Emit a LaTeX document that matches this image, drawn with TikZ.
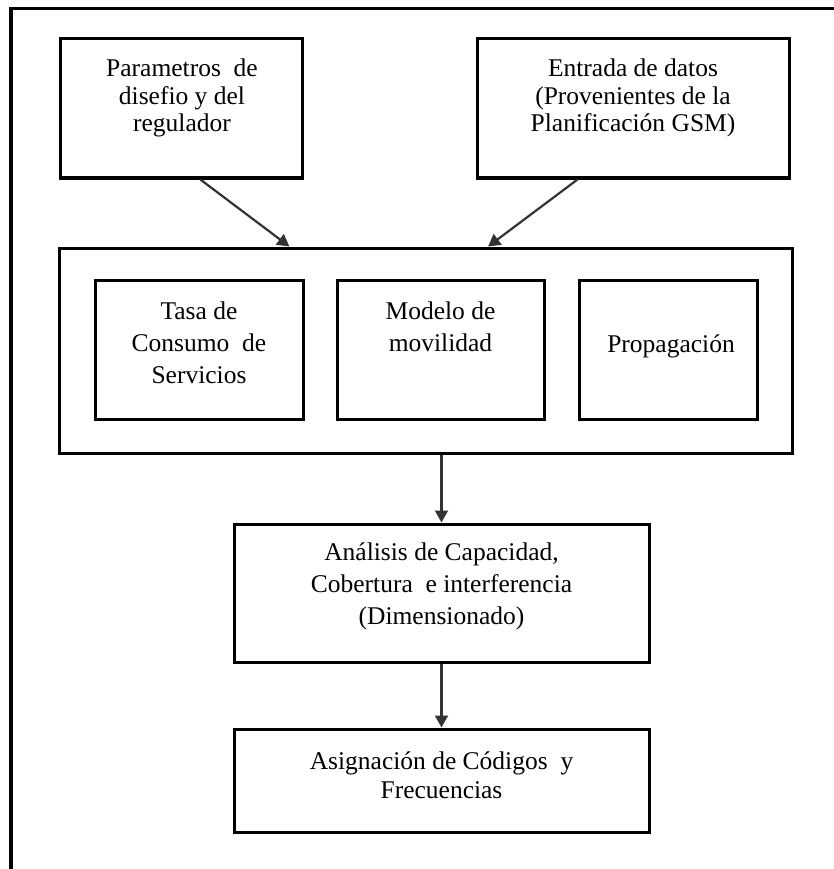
\documentclass[tikz,border=0pt]{standalone}
\usepackage{fontspec}
\setmainfont{Liberation Serif}
\usetikzlibrary{arrows.meta,calc}
\begin{document}
\begin{tikzpicture}[x=1pt,y=-1pt,
  box/.style={draw=black,line width=3pt,fill=white,inner sep=0pt,rectangle},
  txt/.style={inner sep=0pt,align=center,anchor=north,font=\fontsize{25.5}{27.5}\selectfont},
  txtw/.style={txt,font=\fontsize{25.5}{32}\selectfont},
  arr/.style={draw=black!80,line width=2.2pt,-{Triangle[width=13pt,length=12pt]}}]
\useasboundingbox (0,0) rectangle (834,869);
% outer frame (only top and left edges visible)
\coordinate (f1) at (11,869);
\coordinate (f2) at (11,8.5);
\coordinate (f3) at (834,8.5);
\draw[line width=3.5pt] (f1) -- (f2) -- (f3);
% boxes
\node[box,minimum width=242pt,minimum height=139pt] (A) at (181,108.5) {};
\node[box,minimum width=312pt,minimum height=139pt] (B) at (633,108.5) {};
\node[box,minimum width=733pt,minimum height=205pt] (C) at (425.5,350.5) {};
\node[box,minimum width=208pt,minimum height=139pt] (T1) at (199,349.5) {};
\node[box,minimum width=207pt,minimum height=139pt] (T2) at (440.5,349.5) {};
\node[box,minimum width=178pt,minimum height=139pt] (T3) at (668,349.5) {};
\node[box,minimum width=415pt,minimum height=138pt] (D) at (441.5,593) {};
\node[box,minimum width=415pt,minimum height=103pt] (E) at (441.5,780.5) {};
% texts
\node[txt] (tA) at (182,59) {Parametros\ \ de\\disefio y del\\regulador};
\node[txt] (tB) at (633,59) {Entrada de datos\\(Provenientes de la\\Planificación GSM)};
\node[txtw] (tT1) at (199,302) {Tasa de\\Consumo\ \ de\\Servicios};
\node[txtw] (tT2) at (440.5,302) {Modelo de\\movilidad};
\node[txtw] (tT3) at (671,335) {Propagación};
\node[txtw] (tD) at (441.5,543) {Análisis de Capacidad,\\Cobertura\ \ e interferencia\\(Dimensionado)};
\node[txt,font=\fontsize{25.5}{29}\selectfont] (tE) at (441.5,752) {Asignación de Códigos\ \ y\\Frecuencias};
% connectors
\draw[arr] ($(A.south west)!0.579!(A.south east)$) -- ($(C.north west)!0.315!(C.north east)$);
\draw[arr] ($(B.south west)!0.324!(B.south east)$) -- ($(C.north west)!0.585!(C.north east)$);
\draw[arr] (C.south -| D.north) -- (D.north);
\draw[arr] (D.south) -- (E.north);
\end{tikzpicture}
\end{document}
